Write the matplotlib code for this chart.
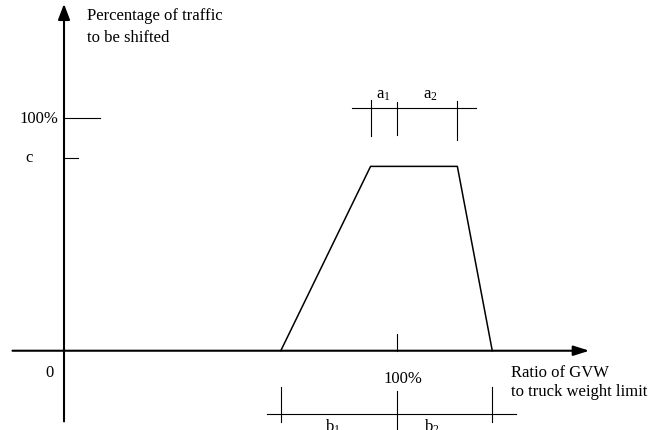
import matplotlib.pyplot as plt

plt.rcParams['font.family'] = ['Liberation Serif', 'DejaVu Serif']
plt.rcParams['mathtext.fontset'] = 'custom'
plt.rcParams['mathtext.rm'] = 'Liberation Serif'
plt.rcParams['mathtext.it'] = 'Liberation Serif'

# trapezoid: ratio of GVW (%) vs percentage of traffic shifted (%)
trap_x = [65.2, 92.2, 118.3, 128.8]
trap_y = [0, 79.3, 79.3, 0]
c_level = 83.0

# dimension line a (above the plateau)
a_line_x = [86.7, 123.8]
a_line_y = 104.6
a_ticks_x = [92.2, 100.0, 118.3]
a_ticks_top = [107.9, 107.0, 107.4]
a_ticks_bot = [92.5, 92.9, 90.7]

# dimension line b (below the x axis)
b_line_x = [61.1, 135.9]
b_line_y = -27.2
b_ticks_x = [65.2, 100.0, 128.8]
b_ticks_top = [-15.6, -17.2, -15.6]
b_ticks_bot = [-30.7, -34.5, -30.7]

fig = plt.figure(figsize=(6.62, 4.31), dpi=100)
ax = fig.add_axes([0, 0, 1, 1])
ax.set_xlim(-19.25, 179.85)
ax.set_ylim(-34.1, 151.3)
ax.axis('off')

# axes with arrows
ax.annotate('', xy=(158.0, 0), xytext=(-15.5, 0),
            arrowprops=dict(arrowstyle='-|>,head_length=0.95,head_width=0.3',
                            mutation_scale=10, lw=1.5, color='black',
                            shrinkA=0, shrinkB=0))
ax.annotate('', xy=(0, 149.2), xytext=(0, -30.4),
            arrowprops=dict(arrowstyle='-|>,head_length=0.95,head_width=0.36',
                            mutation_scale=10, lw=1.5, color='black',
                            shrinkA=0, shrinkB=0))

# y ticks for 100% and c
ax.plot([0, 10.8], [100, 100], color='black', lw=0.8)
ax.plot([0, 4.1], [c_level, c_level], color='black', lw=0.8)
# x tick at 100%
ax.plot([100, 100], [0, 7.2], color='black', lw=0.8)

# trapezoid
ax.plot(trap_x, trap_y, color='black', lw=1.1)

# dimension a
ax.plot(a_line_x, [a_line_y, a_line_y], color='black', lw=0.8)
for x, t, b in zip(a_ticks_x, a_ticks_top, a_ticks_bot):
    ax.plot([x, x], [b, t], color='black', lw=0.8)

# dimension b
ax.plot(b_line_x, [b_line_y, b_line_y], color='black', lw=0.8)
for x, t, b in zip(b_ticks_x, b_ticks_top, b_ticks_bot):
    ax.plot([x, x], [b, t], color='black', lw=0.8)

fs = 12
ax.text(6.9, 142.5, 'Percentage of traffic', fontsize=fs, va='baseline')
ax.text(6.9, 133.4, 'to be shifted', fontsize=fs, va='baseline')
ax.text(-1.6, 98.5, '100%', fontsize=fs, ha='right', va='baseline')
ax.text(-10.5, 81.7, 'c', fontsize=fs, ha='center', va='baseline')
ax.text(-4.5, -10.8, '0', fontsize=fs, ha='center', va='baseline')
ax.text(95.9, 108.9, r'$\mathregular{a_1}$', fontsize=fs, ha='center', va='baseline')
ax.text(110.1, 108.9, r'$\mathregular{a_2}$', fontsize=fs, ha='center', va='baseline')
ax.text(101.8, -13.6, '100%', fontsize=fs, ha='center', va='baseline')
ax.text(134.3, -10.9, 'Ratio of GVW', fontsize=fs, va='baseline')
ax.text(134.3, -18.9, 'to truck weight limit', fontsize=fs, va='baseline')
ax.text(80.9, -34.3, r'$\mathregular{b_1}$', fontsize=fs, ha='center', va='baseline')
ax.text(110.7, -34.3, r'$\mathregular{b_2}$', fontsize=fs, ha='center', va='baseline')

fig.savefig('out.png', dpi=100)
